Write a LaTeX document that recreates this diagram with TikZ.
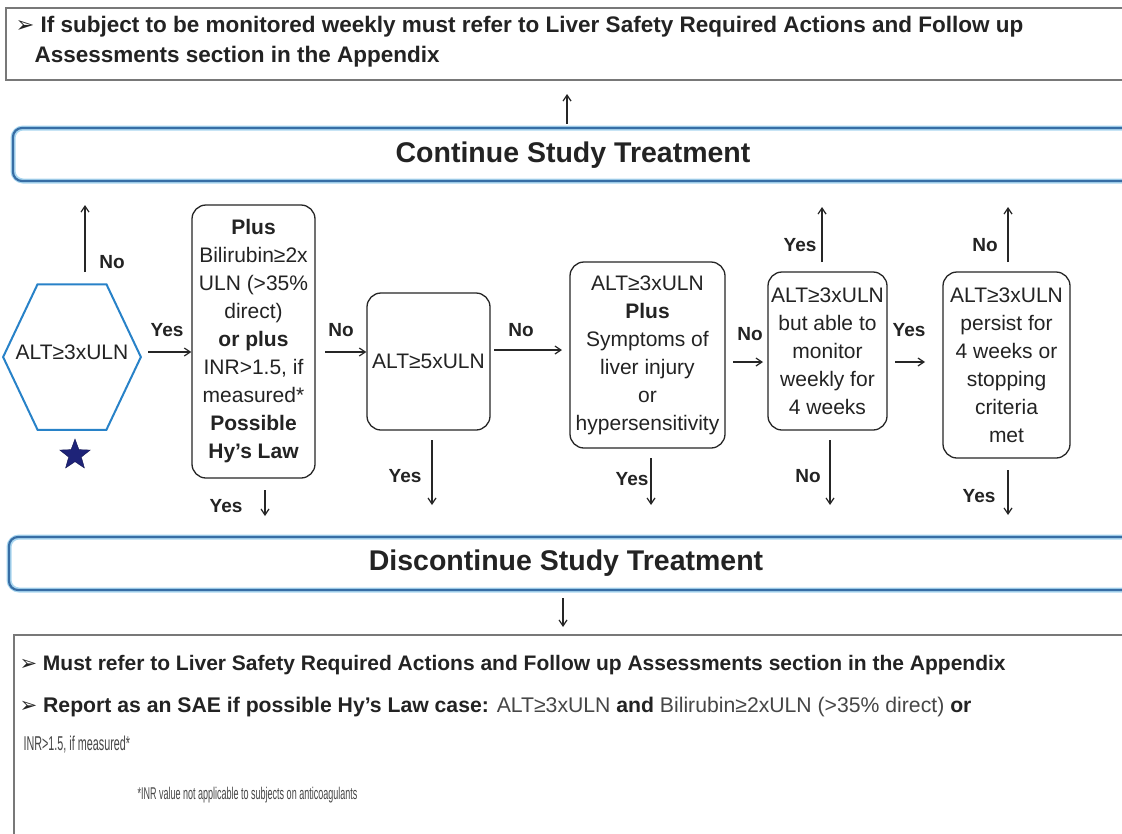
\documentclass[tikz,border=0pt]{standalone}
\usepackage{fontspec}
\setmainfont{Liberation Sans}
\newfontfamily\symfont{DejaVu Sans}
\usetikzlibrary{shapes.geometric,arrows.meta,calc}
\definecolor{bblue}{RGB}{55,110,165}
\definecolor{bglow}{RGB}{170,215,240}
\definecolor{hexblue}{RGB}{40,130,200}
\definecolor{starblue}{RGB}{30,35,120}
\definecolor{boxgray}{RGB}{120,120,120}
\definecolor{txt}{RGB}{35,35,35}
\definecolor{ltxt}{RGB}{70,70,70}
\tikzset{
  dbox/.style={draw=black!85, line width=1.3pt, rounded corners=14pt, align=center, inner sep=0pt},
  bt/.style={font=\fontsize{21}{28}\selectfont, text=txt},
  lbl/.style={font=\bfseries\fontsize{19}{22}\selectfont, text=txt},
  arr/.style={-{Straight Barb[length=6pt,width=8pt]}, line width=1.2pt, black!85},
  bluebar/.style={draw=bblue, line width=2.2pt, rounded corners=9pt},
  glow/.style={draw=bglow, line width=5pt, rounded corners=10pt},
  graybox/.style={draw=boxgray, line width=1.5pt},
}
\begin{document}
\begin{tikzpicture}[x=1pt,y=-1pt]
\useasboundingbox (0,0) rectangle (1122,833);
\clip (0,0) rectangle (1122,833);
\fill[white] (0,0) rectangle (1122,833);

% top box
\node[graybox, minimum width=1140pt, minimum height=72pt, anchor=north west, inner sep=0pt] (topbox) at (5,7) {};
\node[anchor=north west, align=left, font=\bfseries\fontsize{22.5}{30}\selectfont, text=txt] (toptext) at (12,13)
 {{\symfont\mdseries ➢}\ If subject to be monitored weekly must refer to Liver Safety Required Actions and Follow up\\
  \hspace{19pt}Assessments section in the Appendix};

% continue bar
\draw[glow] (13,128) rectangle (1140,181);
\draw[bluebar] (13,128) rectangle (1140,181);
\node[font=\bfseries\fontsize{28.5}{30}\selectfont, text=txt] (cont) at (573,155) {Continue Study Treatment};
\coordinate (contTop) at (567,124);
\coordinate (topBot) at (567,94);
\draw[arr] (contTop) -- (topBot);

% hexagon
\node[regular polygon, regular polygon sides=6, draw=hexblue, line width=2pt,
      minimum width=168pt, xscale=0.82, inner sep=0pt] (hex) at (72,357) {};
\node[bt] (hexl) at (72,352) {ALT≥3xULN};
\node[star, star points=5, star point ratio=2.4, fill=starblue, draw=starblue!70!black, minimum size=32pt, inner sep=0pt] (star) at (75,455) {};

% box2
\node[dbox, bt, minimum width=123pt, minimum height=273pt] (b2) at (253.5,341.5)
 {\textbf{Plus}\\Bilirubin≥2x\\ULN (>35\%\\direct)\\\textbf{or plus}\\INR>1.5, if\\measured*\\\textbf{Possible}\\\textbf{Hy’s Law}};
% box3
\node[dbox, bt, minimum width=123pt, minimum height=137pt] (b3) at (428.5,361.5) {ALT≥5xULN};
% box4
\node[dbox, bt, minimum width=155pt, minimum height=186pt] (b4) at (647.5,355) {ALT≥3xULN\\\textbf{Plus}\\Symptoms of\\liver injury\\or\\hypersensitivity};
% box5
\node[dbox, bt, minimum width=119pt, minimum height=158pt] (b5) at (827.5,351) {ALT≥3xULN\\but able to\\monitor\\weekly for\\4 weeks};
% box6
\node[dbox, bt, minimum width=127pt, minimum height=186pt] (b6) at (1006.5,365) {ALT≥3xULN\\persist for\\4 weeks or\\stopping\\criteria\\met};

% discontinue bar
\draw[glow] (9,537) rectangle (1140,590);
\draw[bluebar] (9,537) rectangle (1140,590);
\node[font=\bfseries\fontsize{28.5}{30}\selectfont, text=txt] (disc) at (566,563) {Discontinue Study Treatment};

% bottom box
\node[graybox, minimum width=1140pt, minimum height=260pt, anchor=north west, inner sep=0pt] (botbox) at (13,634) {};
\node[anchor=west, font=\bfseries\fontsize{21}{22}\selectfont, text=txt] (l1) at (16,665)
 {{\symfont\mdseries ➢}\ Must refer to Liver Safety Required Actions and Follow up Assessments section in the Appendix};
\node[anchor=west, font=\fontsize{21.2}{22}\selectfont, text=txt] (l2) at (16,707)
 {{\symfont ➢}\ \textbf{Report as an SAE if possible Hy’s Law case:} \textcolor{ltxt}{ALT≥3xULN} \textbf{and} \textcolor{ltxt}{Bilirubin≥2xULN (>35\% direct)} \textbf{or}};
\node[anchor=west, font=\fontsize{20}{22}\selectfont, text=ltxt] (l3) at (20,745) {\scalebox{0.54}[1]{INR>1.5, if measured*}};
\node[anchor=west, font=\fontsize{17}{18}\selectfont, text=ltxt] (l4) at (134,795) {\scalebox{0.53}[1]{*INR value not applicable to subjects on anticoagulants}};
\coordinate (discBot) at (563,598);
\coordinate (botTop) at (563,627);
\draw[arr] (discBot) -- (botTop);

% connectors
\coordinate (hexTop) at (85,272);
\coordinate (hexUp) at (85,205);
\draw[arr] (hexTop) -- (hexUp);
\node[lbl] at (112,262) {No};

\coordinate (hexR) at (148,352);
\draw[arr] (hexR) -- (b2.west |- hexR);
\node[lbl] at (167,330) {Yes};

\coordinate (b2R) at (325,352);
\draw[arr] (b2R) -- (b3.west |- b2R);
\node[lbl] at (341,330) {No};

\coordinate (b3R) at (494,350);
\coordinate (b4L) at (562,350);
\draw[arr] (b3R) -- (b4L);
\node[lbl] at (521,330) {No};

\coordinate (b4R) at (733,362);
\coordinate (b5L) at (763,362);
\draw[arr] (b4R) -- (b5L);
\node[lbl] at (750,334) {No};

\coordinate (b5R) at (895,362);
\coordinate (b6L) at (925,362);
\draw[arr] (b5R) -- (b6L);
\node[lbl] at (909,330) {Yes};

% down arrows
\coordinate (d2a) at (265,490); \coordinate (d2b) at (265,516);
\draw[arr] (d2a) -- (d2b);
\node[lbl] at (226,506) {Yes};
\coordinate (d3a) at (432,440); \coordinate (d3b) at (432,505);
\draw[arr] (d3a) -- (d3b);
\node[lbl] at (405,476) {Yes};
\coordinate (d4a) at (651,458); \coordinate (d4b) at (651,505);
\draw[arr] (d4a) -- (d4b);
\node[lbl] at (632,479) {Yes};
\coordinate (d5a) at (830,440); \coordinate (d5b) at (830,505);
\draw[arr] (d5a) -- (d5b);
\node[lbl] at (808,476) {No};
\coordinate (d6a) at (1008,470); \coordinate (d6b) at (1008,515);
\draw[arr] (d6a) -- (d6b);
\node[lbl] at (979,496) {Yes};

% up arrows
\coordinate (u5a) at (822,262); \coordinate (u5b) at (822,207);
\draw[arr] (u5a) -- (u5b);
\node[lbl] at (800,245) {Yes};
\coordinate (u6a) at (1008,262); \coordinate (u6b) at (1008,207);
\draw[arr] (u6a) -- (u6b);
\node[lbl] at (985,245) {No};
\end{tikzpicture}
\end{document}
